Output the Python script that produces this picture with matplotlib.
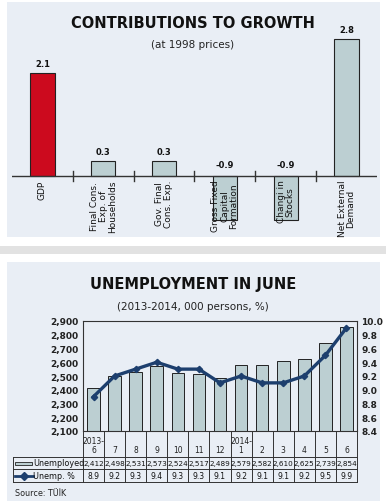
import matplotlib
matplotlib.use("Agg")
import matplotlib.pyplot as plt
from matplotlib.patches import Rectangle
from matplotlib.lines import Line2D
import matplotlib.transforms as mtransforms
from matplotlib import font_manager

# --- data: contributions to growth ---
contrib_labels = ["GDP", "Final Cons.\nExp. of\nHouseholds", "Gov. Final\nCons. Exp.",
                  "Gross Fixed\nCapital\nFormation", "Changi in\nStocks",
                  "Net External\nDemand"]
contrib_values = [2.1, 0.3, 0.3, -0.9, -0.9, 2.8]

# --- data: unemployment ---
months = ["2013-\n6", "7", "8", "9", "10", "11", "12", "2014-\n1",
          "2", "3", "4", "5", "6"]
unemployed = [2412, 2498, 2531, 2573, 2524, 2517, 2489, 2579, 2582, 2610, 2625, 2739, 2854]
unemp_rate = [8.9, 9.2, 9.3, 9.4, 9.3, 9.3, 9.1, 9.2, 9.1, 9.1, 9.2, 9.5, 9.9]

W, H = 386, 502
PANEL = "#e9eef5"
BAR = "#bccfd2"
RED = "#cc0a1e"
NAVY = "#1d3f6e"

names = {f.name for f in font_manager.fontManager.ttflist}
NARROW = ["Liberation Sans Narrow"] if "Liberation Sans Narrow" in names else ["DejaVu Sans"]


def fx(px):
    return px / W


def fy(py):
    return 1 - py / H


fig = plt.figure(figsize=(W / 100, H / 100), dpi=100)
fig.patch.set_facecolor("white")

# panel backgrounds and separator band
for r in [Rectangle((fx(7), fy(238)), fx(373), 235 / H),
          Rectangle((0, fy(255)), 1, 8 / H),
          Rectangle((fx(7), 0), fx(373), fy(263))]:
    r.set_transform(fig.transFigure)
    r.set_edgecolor("none")
    r.set_zorder(-5)
    fig.patches.append(r)
fig.patches[0].set_facecolor(PANEL)
fig.patches[1].set_facecolor("#e2e2e2")
fig.patches[2].set_facecolor(PANEL)

# ---------------- top chart ----------------
fig.text(fx(193), fy(23), "CONTRIBUTIONS TO GROWTH", ha="center", va="center",
         fontsize=10.5, fontweight="bold", color="#111111")
fig.text(fx(193), fy(45), "(at 1998 prices)", ha="center", va="center",
         fontsize=7.5, color="#222222")

ax1 = fig.add_axes([fx(12), fy(235), fx(365), 205 / H])
ax1.set_facecolor("none")
ax1.set_xlim(-0.5, 5.5)
scale = 49.0
ax1.set_ylim(-(235 - 177) / scale, (177 - 30) / scale)
for s in ax1.spines.values():
    s.set_visible(False)
ax1.set_xticks([])
ax1.set_yticks([])

colors = [RED] + [BAR] * (len(contrib_values) - 1)
ax1.bar(range(len(contrib_values)), contrib_values, width=0.4, color=colors,
        edgecolor="#222222", linewidth=0.8, zorder=2)
ax1.axhline(0, color="#333333", lw=1.0, zorder=3)
for k in range(1, len(contrib_values)):
    ax1.plot([k - 0.5, k - 0.5], [-0.1, 0.1], color="#333333", lw=1.0, zorder=3)
for i, v in enumerate(contrib_values):
    y = v + 0.1 if v > 0 else 0.14
    ax1.text(i, y, f"{v:.1f}", ha="center", va="bottom", fontsize=6,
             fontweight="bold", color="#111111")
for i, lab in enumerate(contrib_labels):
    ax1.text(i, -0.07, lab, rotation=90, ha="center", va="top", fontsize=6.5,
             color="#111111", linespacing=1.0, zorder=4)

# ---------------- bottom chart ----------------
fig.text(fx(193), fy(285), "UNEMPLOYMENT IN JUNE", ha="center", va="center",
         fontsize=10.5, fontweight="bold", color="#111111")
fig.text(fx(193), fy(307), "(2013-2014, 000 persons, %)", ha="center", va="center",
         fontsize=7.5, color="#222222")

ax = fig.add_axes([fx(83), fy(432), fx(274), 110 / H])
ax.set_facecolor("none")
x = list(range(len(months)))
ax.bar(x, unemployed, width=0.6, color=BAR, edgecolor="#222222", linewidth=0.7,
       zorder=2)
ax.set_ylim(2100, 2900)
ax.set_xlim(-0.5, len(months) - 0.5)
ax.set_yticks(range(2100, 2901, 100))
ax.set_yticklabels([f"{v:,}" for v in range(2100, 2901, 100)])
ax.set_xticks([])
ax.tick_params(axis="y", length=0, pad=3, labelsize=6.5, labelcolor="#222222")
for lab in ax.get_yticklabels():
    lab.set_fontweight("bold")
for s in ax.spines.values():
    s.set_color("#333333")
    s.set_linewidth(0.8)

ax2 = ax.twinx()
ax2.plot(x, unemp_rate, color=NAVY, lw=2.4, marker="D", markersize=3.2, zorder=3)
ax2.set_ylim(8.4, 10.0)
ax2.set_yticks([8.4 + 0.2 * k for k in range(9)])
ax2.set_yticklabels([f"{8.4 + 0.2 * k:.1f}" for k in range(9)])
ax2.tick_params(axis="y", length=0, pad=3, labelsize=6.5, labelcolor="#222222")
for lab in ax2.get_yticklabels():
    lab.set_fontweight("bold")
for s in ax2.spines.values():
    s.set_visible(False)

# data table below the chart
tr = mtransforms.blended_transform_factory(ax.transData, fig.transFigure)
left = -0.5 - 70 / (274 / len(months))
right = len(months) - 0.5
y0, y1, y2, y3 = fy(432), fy(458), fy(470), fy(483)
lk = dict(color="#333333", lw=0.7, transform=tr, clip_on=False)
for k in range(len(months) + 1):
    fig.add_artist(Line2D([k - 0.5, k - 0.5], [y3, y0], **lk))
fig.add_artist(Line2D([left, left], [y3, y1], **lk))
for yy in (y1, y2, y3):
    fig.add_artist(Line2D([left, right], [yy, yy], **lk))

for i, m in enumerate(months):
    fig.text(i, y1 + 3 / H, m, transform=tr, ha="center", va="bottom", fontsize=5.5,
             family=NARROW, color="#222222", linespacing=0.95)
    fig.text(i, (y1 + y2) / 2, f"{unemployed[i]:,}", transform=tr, ha="center",
             va="center", fontsize=5.2, family=NARROW, color="#111111")
    fig.text(i, (y2 + y3) / 2, f"{unemp_rate[i]:.1f}", transform=tr, ha="center",
             va="center", fontsize=5.5, family=NARROW, color="#111111")

# legend keys inside the table header cells
ym1, ym2 = (y1 + y2) / 2, (y2 + y3) / 2
fig.add_artist(Rectangle((left + 0.1, ym1 - 1.5 / H), 0.8, 3 / H,
                         transform=tr, facecolor=BAR, edgecolor="#222222", lw=0.6))
fig.text(left + 0.95, ym1, "Unemployed", transform=tr, ha="left",
         va="center", fontsize=5.8, family=NARROW, color="#111111")
fig.add_artist(Line2D([left + 0.1, left + 0.95], [ym2] * 2, color=NAVY,
                      lw=2, transform=tr))
fig.add_artist(Line2D([left + 0.5], [ym2], color=NAVY, marker="D",
                      markersize=4, transform=tr))
fig.text(left + 0.95, ym2, "Unemp. %", transform=tr, ha="left",
         va="center", fontsize=5.8, family=NARROW, color="#111111")

fig.text(fx(15), fy(494), "Source: TÜİK", ha="left", va="center", fontsize=5.8,
         color="#222222")

fig.savefig("out.png", dpi=100)
